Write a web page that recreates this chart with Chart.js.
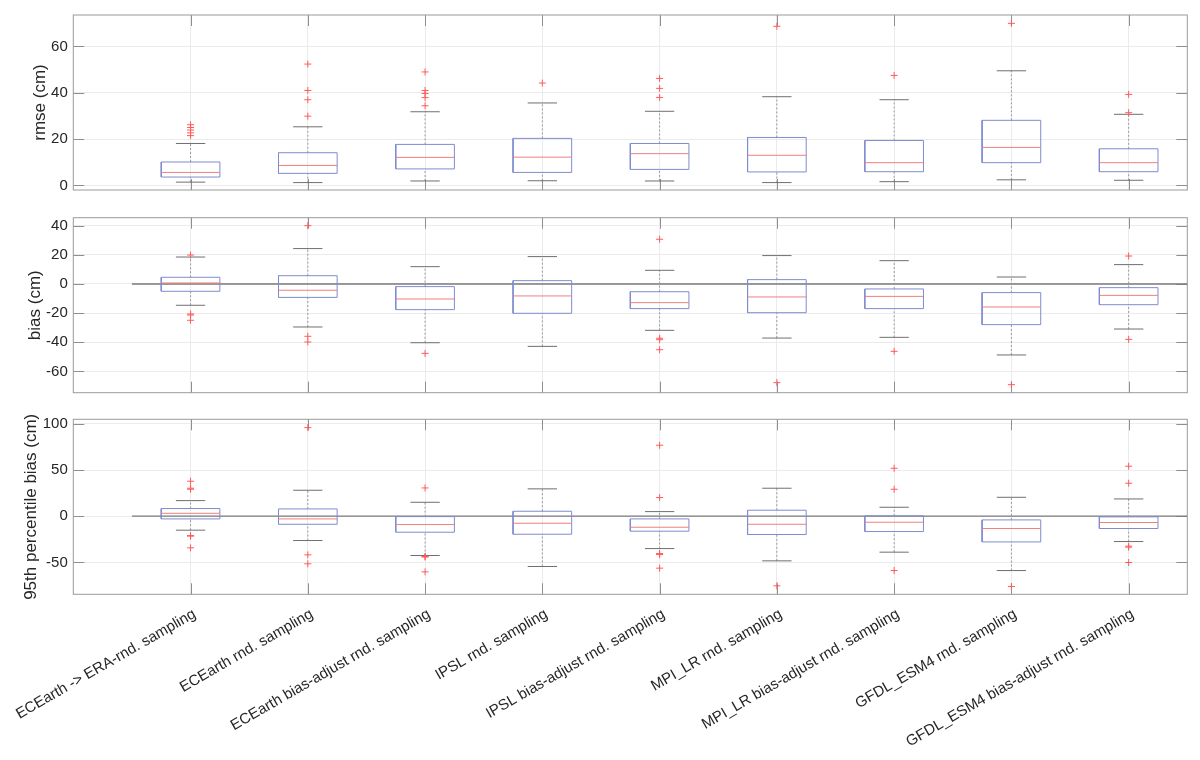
<!DOCTYPE html>
<html>
<head>
<meta charset="utf-8">
<script src="https://cdn.jsdelivr.net/npm/chart.js@4.4.1/dist/chart.umd.min.js"></script>
<style>
  html, body { margin: 0; padding: 0; background: #fff; }
  #wrap { position: relative; width: 1200px; height: 760px; }
  canvas { position: absolute; left: 0; }
</style>
</head>
<body>
<div id="wrap">
  <canvas id="rmseChart" width="1200" height="200" style="top:0"></canvas>
  <canvas id="biasChart" width="1200" height="200" style="top:200px"></canvas>
  <canvas id="p95Chart" width="1200" height="360" style="top:400px"></canvas>
</div>
<script>
// experiment names (x axis)
const categories = [
  'ECEarth -> ERA-rnd. sampling',
  'ECEarth rnd. sampling',
  'ECEarth bias-adjust rnd. sampling',
  'IPSL rnd. sampling',
  'IPSL bias-adjust rnd. sampling',
  'MPI_LR rnd. sampling',
  'MPI_LR bias-adjust rnd. sampling',
  'GFDL_ESM4 rnd. sampling',
  'GFDL_ESM4 bias-adjust rnd. sampling'
];

// rmse (cm)
const rmseQ1   = [3.6, 5.2, 7.1, 5.6, 6.9, 5.8, 5.9, 9.8, 5.9];
const rmseMed  = [5.6, 8.6, 12.1, 12.2, 13.7, 13.0, 9.8, 16.4, 9.8];
const rmseQ3   = [10.1, 14.1, 17.7, 20.3, 18.1, 20.7, 19.4, 28.1, 15.8];
const rmseLow  = [1.4, 1.2, 1.9, 2.0, 1.9, 1.2, 1.6, 2.4, 2.2];
const rmseHigh = [18.1, 25.3, 31.8, 35.6, 32.0, 38.3, 37.0, 49.5, 30.7];
const rmseOut  = [[26.2, 25.0, 23.9, 22.7, 21.5], [52.4, 41.0, 37.0, 29.9], [49.0, 41.0, 39.7, 37.9, 34.4],
                  [44.2], [46.2, 41.9, 38.0], [68.7], [47.5], [70.0], [39.3, 31.4]];
const rmseTicks = [0, 20, 40, 60];

// bias (cm)
const biasQ1   = [-5.0, -9.2, -17.6, -20.1, -16.9, -19.7, -16.9, -27.9, -14.2];
const biasMed  = [0.7, -4.3, -10.3, -8.2, -12.8, -8.9, -8.5, -15.8, -7.8];
const biasQ3   = [4.6, 5.7, -1.8, 2.3, -5.3, 3.0, -3.4, -5.9, -2.5];
const biasLow  = [-14.6, -29.5, -40.3, -42.8, -31.8, -37.1, -36.6, -48.7, -30.9];
const biasHigh = [18.5, 24.3, 11.9, 18.8, 9.4, 19.5, 16.0, 4.8, 13.3];
const biasOut  = [[19.9, -20.6, -21.3, -24.9], [40.0, -35.9, -39.8], [-47.6], [],
                  [30.7, -37.2, -38.2, -45.1], [-67.7], [-46.2], [-69.1], [19.2, -38.0]];
const biasTicks = [-60, -40, -20, 0, 20, 40];

// 95th percentile bias (cm)
const p95Q1   = [-2.9, -8.7, -17.3, -19.5, -16.2, -19.8, -16.6, -27.8, -13.3];
const p95Med  = [3.2, -2.9, -9.0, -7.6, -11.9, -8.7, -6.5, -13.3, -6.8];
const p95Q3   = [8.3, 7.9, -0.4, 5.4, -2.9, 6.5, 0.4, -4.0, -0.7];
const p95Low  = [-15.1, -26.3, -42.5, -54.4, -35.0, -48.3, -38.9, -58.8, -27.4];
const p95High = [16.9, 28.1, 15.1, 29.6, 5.0, 30.3, 9.7, 20.5, 18.7];
const p95Out  = [[37.9, 30.3, 29.2, -20.9, -21.6, -34.2], [95.9, -41.8, -51.5], [30.6, -43.6, -44.2, -60.2], [],
                 [76.8, 20.2, -40.4, -41.5, -56.2], [-75.3], [51.9, 29.2, -58.8], [-76.1], [54.1, 35.7, -32.4, -33.5, -50.1]];
const p95Ticks = [-50, 0, 50, 100];

Chart.defaults.font.family = '"Liberation Sans", Arial, Helvetica, sans-serif';
Chart.defaults.font.size = 15;
Chart.defaults.color = '#262626';

// matlab-ish frame, inward ticks and y label
const matlabAxes = {
  id: 'matlabAxes',
  beforeDatasetsDraw(chart, args, opts) {
    const { ctx, chartArea: a, scales: { x, y } } = chart;
    ctx.save();
    ctx.lineWidth = 1;
    ctx.strokeStyle = '#8f8f8f';
    ctx.beginPath();
    x.ticks.forEach(t => {
      const px = Math.round(x.getPixelForValue(t.value)) + 0.5;
      ctx.moveTo(px, a.bottom); ctx.lineTo(px, a.bottom - 11);
      ctx.moveTo(px, a.top); ctx.lineTo(px, a.top + 11);
    });
    y.ticks.forEach(t => {
      const py = Math.round(y.getPixelForValue(t.value)) + 0.5;
      ctx.moveTo(a.left, py); ctx.lineTo(a.left + 11, py);
      ctx.moveTo(a.right, py); ctx.lineTo(a.right - 11, py);
    });
    ctx.stroke();
    ctx.strokeStyle = '#9a9a9a';
    ctx.strokeRect(a.left, a.top, a.right - a.left, a.bottom - a.top);
    ctx.fillStyle = '#262626';
    ctx.font = '17px "Liberation Sans", Arial, sans-serif';
    ctx.textAlign = 'center';
    ctx.textBaseline = 'middle';
    ctx.translate(opts.titleX, (a.top + a.bottom) / 2);
    ctx.rotate(-Math.PI / 2);
    ctx.fillText(opts.title, 0, 0);
    ctx.restore();
  }
};

function boxDatasets(q1, med, q3, low, high, out, zeroLine) {
  const half = 0.25, cap = 0.125;
  const boxPts = [], medPts = [], whiskPts = [], capPts = [], outPts = [];
  categories.forEach((c, k) => {
    const i = k + 1;
    boxPts.push({ x: i - half, y: q1[k] }, { x: i + half, y: q1[k] }, { x: i + half, y: q3[k] },
                { x: i - half, y: q3[k] }, { x: i - half, y: q1[k] }, { x: i + half, y: null });
    medPts.push({ x: i - half, y: med[k] }, { x: i + half, y: med[k] }, { x: i + half, y: null });
    whiskPts.push({ x: i, y: q3[k] }, { x: i, y: high[k] }, { x: i, y: null },
                  { x: i, y: low[k] }, { x: i, y: q1[k] }, { x: i, y: null });
    capPts.push({ x: i - cap, y: high[k] }, { x: i + cap, y: high[k] }, { x: i + cap, y: null },
                { x: i - cap, y: low[k] }, { x: i + cap, y: low[k] }, { x: i + cap, y: null });
    out[k].forEach(v => outPts.push({ x: i, y: v }));
  });
  const line = { type: 'line', pointRadius: 0, fill: false, tension: 0, spanGaps: false, borderWidth: 1 };
  const sets = [
    { ...line, data: outPts, showLine: false, pointRadius: 3.5, pointStyle: 'cross',
      pointBorderColor: '#ff5b5b', pointBorderWidth: 1 },
    { ...line, data: medPts, borderColor: '#f07f7f' },
    { ...line, data: boxPts, borderColor: '#7f8bd0' },
    { ...line, data: capPts, borderColor: '#6f6f6f' },
    { ...line, data: whiskPts, borderColor: '#999999', borderDash: [2, 2] }
  ];
  if (zeroLine) {
    sets.push({ ...line, data: [{ x: 0.5, y: 0 }, { x: 9.5, y: 0 }], borderColor: '#7a7a7a', borderWidth: 1.3 });
  }
  return sets;
}

function makeChart(id, sets, yMin, yMax, yTicks, title, titleX, pad, showLabels) {
  const xAxis = {
    type: 'linear', min: 0, max: 9.5,
    afterBuildTicks: s => { s.ticks = categories.map((c, k) => ({ value: k + 1 })); },
    afterFit: s => {
      s.height = showLabels ? 165.7 : 0;
      s.paddingLeft = 0;
      s.paddingRight = 0;
    },
    grid: { color: '#ebebeb', drawTicks: false },
    border: { display: false },
    ticks: {
      display: showLabels, autoSkip: false, minRotation: 30, maxRotation: 30, padding: 11, labelOffset: 4,
      callback: v => categories[v - 1]
    }
  };
  return new Chart(document.getElementById(id), {
    type: 'line',
    data: { datasets: sets },
    plugins: [matlabAxes],
    options: {
      responsive: false,
      animation: false,
      events: [],
      layout: { autoPadding: false, padding: pad },
      plugins: { legend: { display: false }, tooltip: { enabled: false }, matlabAxes: { title, titleX } },
      scales: {
        x: xAxis,
        y: {
          type: 'linear', min: yMin, max: yMax,
          afterBuildTicks: s => { s.ticks = yTicks.map(v => ({ value: v })); },
          afterFit: s => { s.width = 73.3; s.paddingTop = 0; s.paddingBottom = 0; },
          grid: { color: '#ebebeb', drawTicks: false },
          border: { display: false },
          ticks: { padding: 5.5 }
        }
      }
    }
  });
}

makeChart('rmseChart', boxDatasets(rmseQ1, rmseMed, rmseQ3, rmseLow, rmseHigh, rmseOut, false),
  -2.0, 73.6, rmseTicks, 'rmse (cm)', 40.1, { left: 0, right: 12.7, top: 15, bottom: 10 }, false);
makeChart('biasChart', boxDatasets(biasQ1, biasMed, biasQ3, biasLow, biasHigh, biasOut, true),
  -74.6, 45.5, biasTicks, 'bias (cm)', 35.5, { left: 0, right: 12.7, top: 17.7, bottom: 7.3 }, false);
makeChart('p95Chart', boxDatasets(p95Q1, p95Med, p95Q3, p95Low, p95High, p95Out, true),
  -84.5, 104.9, p95Ticks, '95th percentile bias (cm)', 31.5, { left: 0, right: 12.7, top: 19.3, bottom: 0 }, true);
</script>
</body>
</html>
